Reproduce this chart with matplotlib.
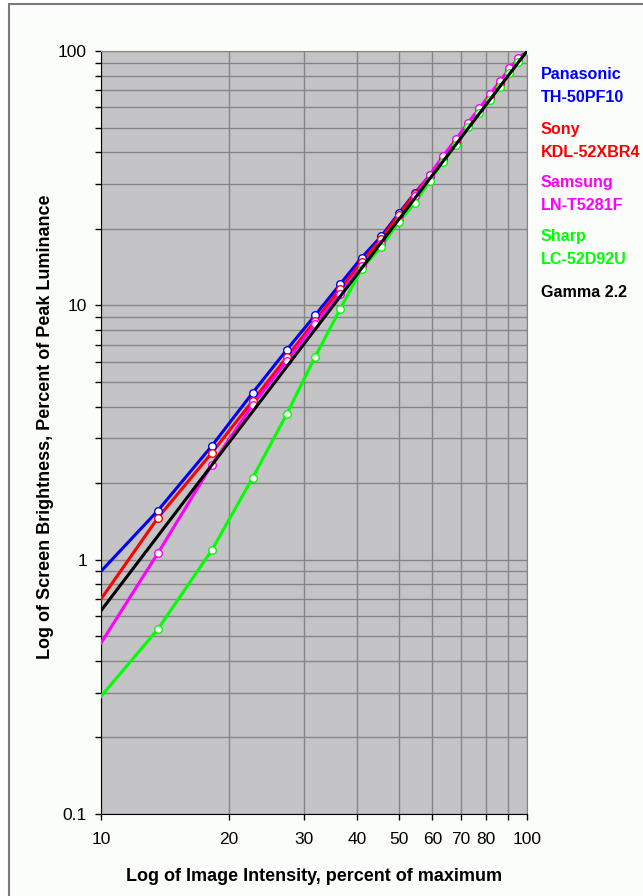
import matplotlib
matplotlib.use('Agg')
import matplotlib.pyplot as plt
from matplotlib.patches import Rectangle
from matplotlib.ticker import FixedLocator, NullLocator, NullFormatter

plt.rcParams['font.family'] = ['Liberation Sans', 'DejaVu Sans']

# Image intensity (percent of max); first value is the left edge of the axis
intensity = [10.0, 13.6, 18.2, 22.7, 27.3, 31.8, 36.4, 40.9, 45.5, 50.0, 54.5,
             59.1, 63.6, 68.2, 72.7, 77.3, 81.8, 86.4, 90.9, 95.5, 100.0]

panasonic = [0.90, 1.56, 2.80, 4.53, 6.69, 9.13, 12.1, 15.4, 18.7, 23.0, 27.6,
             32.3, 38.0, 44.0, 50.8, 58.0, 65.5, 74.0, 82.5, 91.0, 100.0]
sony = [0.70, 1.46, 2.63, 4.21, 6.25, 8.70, 11.6, 14.8, 18.3, 22.7, 27.4,
        32.5, 38.3, 44.3, 51.0, 58.5, 66.0, 74.5, 83.0, 91.5, 100.0]
samsung = [0.47, 1.06, 2.36, 4.06, 6.04, 8.45, 11.1, 14.3, 17.5, 21.5, 26.8,
           32.5, 38.8, 45.0, 52.3, 59.5, 67.5, 76.0, 85.5, 93.6, 100.0]
sharp = [0.29, 0.533, 1.09, 2.10, 3.74, 6.27, 9.64, 13.9, 17.0, 21.3, 25.2,
         30.9, 36.7, 42.7, 50.4, 56.9, 64.0, 72.4, 81.7, 90.3, 100.0]

gamma_x = [10, 100]
gamma_y = [0.63, 100]

series_names = ['Panasonic\nTH-50PF10', 'Sony\nKDL-52XBR4', 'Samsung\nLN-T5281F',
                'Sharp\nLC-52D92U', 'Gamma 2.2']
series_colors = ['#0000ff', '#ff0000', '#ff00ff', '#00ff00', '#000000']

x_ticks = [10, 20, 30, 40, 50, 60, 70, 80, 90, 100]
x_tick_labels = ['10', '20', '30', '40', '50', '60', '70', '80', '', '100']
y_major = [0.1, 1, 10, 100]
y_major_labels = ['0.1', '1', '10', '100']
y_minor = [m * d for d in (0.1, 1, 10) for m in range(2, 10)]

fig = plt.figure(figsize=(6.43, 8.96), dpi=100)
fig.patch.set_facecolor('white')

# outer border of the chart area
fig.patches.append(Rectangle((9 / 643, -0.05), 1.2, 1.05 - 4 / 896,
                             transform=fig.transFigure, facecolor='#fbfdfb',
                             edgecolor='#7a7a7a', linewidth=1.5, zorder=-10))

ax = fig.add_axes([101 / 643, 1 - 814 / 896, 426 / 643, 763 / 896])
ax.set_zorder(1)
ax.set_facecolor('#c4c3c6')
ax.set_xscale('log')
ax.set_yscale('log')
ax.set_xlim(10, 100)
ax.set_ylim(0.1, 100)

ax.xaxis.set_major_locator(FixedLocator(x_ticks))
ax.set_xticklabels(x_tick_labels)
ax.xaxis.set_minor_locator(NullLocator())
ax.xaxis.set_minor_formatter(NullFormatter())
ax.yaxis.set_major_locator(FixedLocator(y_major))
ax.set_yticklabels(y_major_labels)
ax.yaxis.set_minor_locator(FixedLocator(y_minor))
ax.yaxis.set_minor_formatter(NullFormatter())

ax.grid(True, which='both', color='#858585', linewidth=1.0)
ax.set_axisbelow(True)
ax.tick_params(which='both', direction='out', length=4, width=1, labelsize=12.5)
ax.tick_params(axis='x', pad=9)
ax.tick_params(axis='y', pad=6)

for side in ['top', 'right']:
    ax.spines[side].set_color('#858585')
ax.spines['left'].set_color('black')
ax.spines['bottom'].set_color('black')

data = [panasonic, sony, samsung, sharp]
for vals, col in zip(data, series_colors[:4]):
    ax.plot(intensity, vals, color=col, linewidth=2.2, zorder=3)
    ax.plot(intensity[1:], vals[1:], linestyle='none', marker='o', markersize=5.5,
            markerfacecolor='white', markeredgecolor=col, markeredgewidth=1.0, zorder=4)
ax.plot(gamma_x, gamma_y, color='black', linewidth=2.2, zorder=5)

ax.set_xlabel('Log of Image Intensity, percent of maximum', fontsize=13,
              fontweight='bold', labelpad=15)
ax.set_ylabel('Log of Screen Brightness, Percent of Peak Luminance', fontsize=13,
              fontweight='bold', va='center')
ax.yaxis.set_label_coords(-0.131, 0.508)

label_y = [86, 141, 194, 248, 292]
for name, col, yp in zip(series_names, series_colors, label_y):
    fig.text(541 / 643, 1 - yp / 896, name, color=col, fontsize=11.6, fontweight='bold',
             va='center', ha='left', linespacing=1.6)

fig.savefig('out.png', dpi=100)
